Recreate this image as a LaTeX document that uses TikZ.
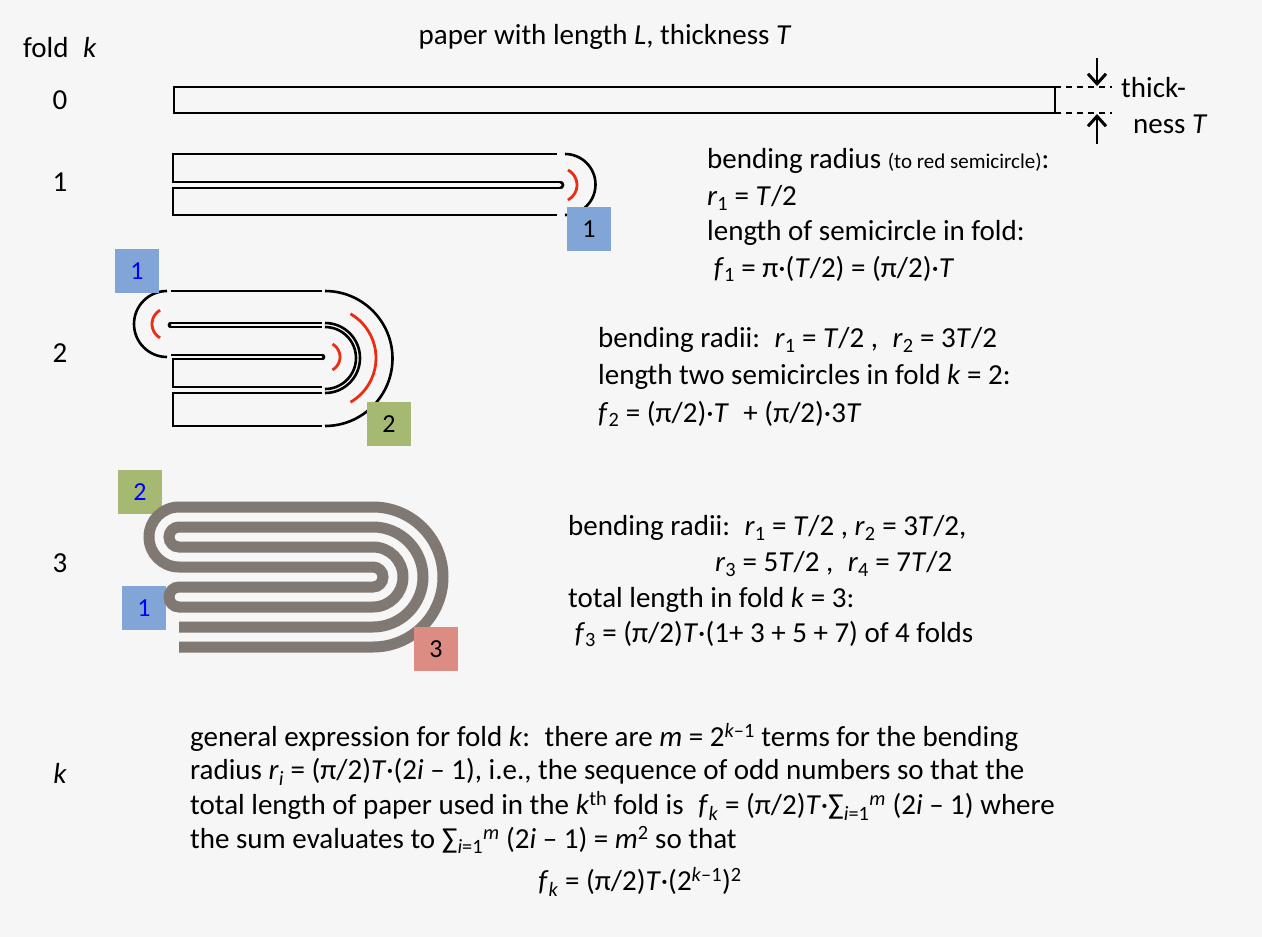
\documentclass[tikz,border=0pt]{standalone}
\usepackage{fontspec}
\setmainfont{Carlito}
\usetikzlibrary{arrows.meta}
\newcommand{\vi}[1]{\textit{#1}}
\newcommand{\lo}[1]{\textsubscript{#1}}
\newcommand{\hi}[1]{\textsuperscript{#1}}
\definecolor{bg}{RGB}{246,246,246}
\definecolor{paper}{RGB}{128,120,115}
\definecolor{lblue}{RGB}{130,165,215}
\definecolor{lgreen}{RGB}{165,185,115}
\definecolor{lred}{RGB}{220,140,130}
\definecolor{redarc}{RGB}{235,45,20}
\begin{document}
\begin{tikzpicture}[x=1pt,y=-1pt,
  txt/.style={anchor=west,inner sep=0pt,font=\fontsize{29}{31}\selectfont},
  num/.style={inner sep=0pt,font=\fontsize{29}{31}\selectfont},
  line/.style={line width=2.6pt,black},
  red/.style={line width=2.8pt,redarc},
  lbl/.style={minimum width=44pt,minimum height=44pt,inner sep=0pt,font=\fontsize{26}{28}\selectfont}]
\fill[bg] (0,0) rectangle (1262,937);
\useasboundingbox (0,0) rectangle (1262,937);
% titles
\node[txt] (fold) at (23,48) {fold\enspace \vi{k}};
\node[num] (title) at (605,37) {paper with length \vi{L}, thickness \vi{T}};
\node[num] (n0) at (60,100) {0};
\node[num] (n1) at (60,182) {1};
\node[num] (n2) at (60,353) {2};
\node[num] (n3) at (60,563) {3};
\node[num] (nk) at (60,773) {\vi{k}};
% fold 0
\draw[line] (174,87) rectangle (1055,113);
\draw[line,dash pattern=on 6pt off 5pt] (1055,87) -- (1112,87) (1055,113) -- (1112,113);
\coordinate (a1) at (1097,58); \coordinate (a2) at (1097,86);
\coordinate (b1) at (1097,144); \coordinate (b2) at (1097,114);
\draw[line,-{Straight Barb[length=10pt,width=18pt,line width=3pt]}] (a1) -- (a2);
\draw[line,-{Straight Barb[length=10pt,width=18pt,line width=3pt]}] (b1) -- (b2);
\node[txt] (th1) at (1121,88) {thick-};
\node[txt] (th2) at (1133,124) {ness \vi{T}};
% fold 1
\draw[line] (557,154) -- (173,154) -- (173,182) -- (560,182);
\draw[line] (560,188) -- (173,188) -- (173,215) -- (557,215);
\draw[line] (560,182) arc[start angle=-90,end angle=90,radius=3];
\draw[line] (565,154) arc[start angle=-90,end angle=90,radius=30.5];
\draw[red] (560,185)+(-62:17) arc[start angle=-62,end angle=62,radius=17];
\node[lbl,fill=lblue] (b1l) at (589,229) {1};
\node[txt] (t11) at (707,161) {bending radius {\fontsize{21}{23}\selectfont (to red semicircle)}:};
\node[txt] (t12) at (707,198) {\vi{r}\lo{1} = \vi{T}/2};
\node[txt] (t13) at (707,233) {length of semicircle in fold:};
\node[txt] (t14) at (707,269) {~\vi{f}\lo{1} = π·(\vi{T}/2) = (π/2)·\vi{T}};
% fold 2
\draw[line] (171,291) -- (322,291);
\draw[line] (171,323) -- (322,323);
\draw[line] (171,327) -- (322,327);
\draw[line] (171,355) -- (322,355);
\draw[line] (322,359) -- (173,359) -- (173,387) -- (322,387);
\draw[line] (322,393) -- (173,393) -- (173,426) -- (322,426);
\draw[line] (167,291) arc[start angle=270,end angle=90,radius=33];
\draw[line] (171,323) arc[start angle=270,end angle=90,radius=2];
\draw[red] (168,324)+(120:16) arc[start angle=120,end angle=240,radius=16];
\draw[line] (325,291) arc[start angle=-90,end angle=90,radius=67.5];
\draw[line] (325,323) arc[start angle=-90,end angle=90,radius=35];
\draw[line] (325,327) arc[start angle=-90,end angle=90,radius=31];
\draw[line] (322,355) arc[start angle=-90,end angle=90,radius=2];
\draw[red] (325,358)+(-60:51) arc[start angle=-60,end angle=60,radius=51];
\draw[red] (325,357)+(-60:15) arc[start angle=-60,end angle=60,radius=15];
\node[lbl,fill=lblue,text=blue] (b2a) at (137,271) {1};
\node[lbl,fill=lgreen] (b2b) at (389,424) {2};
\node[txt] (t21) at (598,340) {bending radii:\enspace \vi{r}\lo{1} = \vi{T}/2 ,\enspace \vi{r}\lo{2} = 3\vi{T}/2};
\node[txt] (t22) at (598,377) {length two semicircles in fold \vi{k} = 2:};
\node[txt] (t23) at (598,414) {\vi{f}\lo{2} = (π/2)·\vi{T}\enspace + (π/2)·3\vi{T}};
% fold 3
\node[lbl,fill=lgreen,text=blue] (b3a) at (140,492) {2};
\node[lbl,fill=lblue,text=blue] (b3b) at (144,608) {1};
\draw[paper,line width=11pt] (179,627) -- (373,627)
  arc[start angle=90,end angle=-90,radius=50] -- (179,527)
  arc[start angle=270,end angle=90,radius=10] -- (373,547)
  arc[start angle=-90,end angle=90,radius=30] -- (179,607)
  arc[start angle=90,end angle=270,radius=10] -- (373,587)
  arc[start angle=90,end angle=-90,radius=10] -- (179,567)
  arc[start angle=90,end angle=270,radius=30] -- (373,507)
  arc[start angle=-90,end angle=90,radius=70] -- (179,647);
\node[lbl,fill=lred] (b3c) at (436,649) {3};
\node[txt] (t31) at (568,528) {bending radii:\enspace \vi{r}\lo{1} = \vi{T}/2 , \vi{r}\lo{2} = 3\vi{T}/2,};
\node[txt] (t32) at (715,564) {\vi{r}\lo{3} = 5\vi{T}/2 ,\enspace \vi{r}\lo{4} = 7\vi{T}/2};
\node[txt] (t33) at (568,600) {total length in fold \vi{k} = 3:};
\node[txt] (t34) at (568,634) {~\vi{f}\lo{3} = (π/2)\vi{T}·(1+ 3 + 5 + 7) of 4 folds};
% general
\node[txt] (g1) at (190,737) {general expression for fold \vi{k}:\enspace there are \vi{m} = 2\hi{\vi{k}–1} terms for the bending};
\node[txt] (g2) at (190,772) {radius \vi{r}\lo{\vi{i}} = (π/2)\vi{T}·(2\vi{i} – 1), i.e., the sequence of odd numbers so that the};
\node[txt] (g3) at (190,806) {total length of paper used in the \vi{k}\hi{th} fold is\enspace \vi{f}\lo{\vi{k}} = (π/2)\vi{T}·∑\lo{\vi{i}=1}\hi{\vi{m}} (2\vi{i} – 1) where};
\node[txt] (g4) at (190,840) {the sum evaluates to ∑\lo{\vi{i}=1}\hi{\vi{m}} (2\vi{i} – 1) = \vi{m}\hi{2} so that};
\node[num] (g5) at (640,882) {\vi{f}\lo{\vi{k}} = (π/2)\vi{T}·(2\hi{\vi{k}–1})\hi{2}};
\end{tikzpicture}
\end{document}
